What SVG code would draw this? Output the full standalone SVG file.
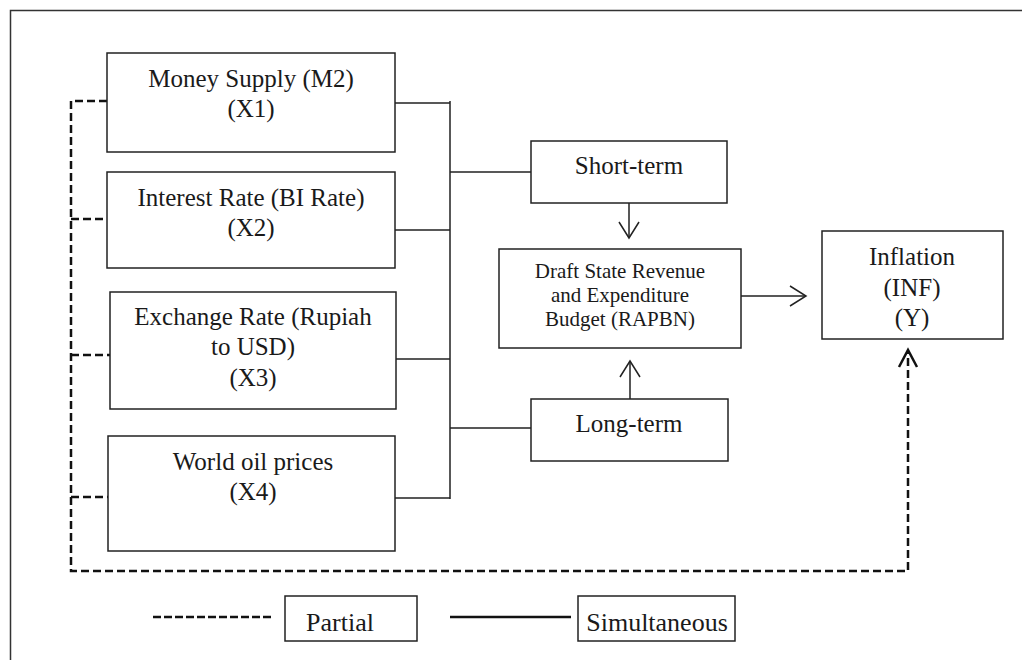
<svg xmlns="http://www.w3.org/2000/svg" width="1022" height="660" viewBox="0 0 1022 660">
<style>
.box{fill:#fff;stroke:#222;stroke-width:1.5}
.t{font-family:"Liberation Serif","Times New Roman",serif;font-size:25px;fill:#1a1a1a;text-anchor:middle}
.ts{font-size:21px}
.tl{font-size:26px}
.solid{fill:none;stroke:#222;stroke-width:1.5}
.dash{fill:none;stroke:#111;stroke-width:2.5;stroke-dasharray:8 4}
.head{fill:none;stroke:#222;stroke-width:1.5}
</style>
<rect width="1022" height="660" fill="#fff"/>
<path d="M10.5,660 V10.5 H1022" fill="none" stroke="#333" stroke-width="1.5"/>
<g id="connectors">
<path class="solid" d="M395,103 H450 M395,230 H450 M396,359 H450 M395,498 H450 M450,101 V499 M450,172 H531 M450,428 H531"/>
<path class="solid" d="M629,203 V238 M630,399 V361 M741,296 H806"/>
<path class="head" d="M619,222 L629,238 L639,222 M620,377 L630,361 L640,377 M790,286 L806,296 L790,306"/>
<path class="dash" d="M107,101 H71 V571 H908 V352 M71,219 H107 M71,355 H110 M71,497 H108"/>
<path d="M899,367 L908,350 L917,367" fill="none" stroke="#111" stroke-width="2.5"/>
</g>
<g id="x1"><rect class="box" x="107" y="53" width="288" height="99"/><text class="t" x="251" y="87">Money Supply (M2)</text><text class="t" x="251" y="117">(X1)</text></g>
<g id="x2"><rect class="box" x="107" y="172" width="288" height="96"/><text class="t" x="251" y="206">Interest Rate (BI Rate)</text><text class="t" x="251" y="236">(X2)</text></g>
<g id="x3"><rect class="box" x="110" y="292" width="286" height="117"/><text class="t" x="253" y="325">Exchange Rate (Rupiah</text><text class="t" x="253" y="355">to USD)</text><text class="t" x="253" y="386">(X3)</text></g>
<g id="x4"><rect class="box" x="108" y="436" width="287" height="115"/><text class="t" x="253" y="470">World oil prices</text><text class="t" x="253" y="500">(X4)</text></g>
<g id="short"><rect class="box" x="531" y="141" width="196" height="62"/><text class="t" x="629" y="174">Short-term</text></g>
<g id="long"><rect class="box" x="531" y="399" width="197" height="62"/><text class="t" x="629" y="432">Long-term</text></g>
<g id="rapbn"><rect class="box" x="499" y="249" width="242" height="99"/><text class="t ts" x="620" y="278">Draft State Revenue</text><text class="t ts" x="620" y="302">and Expenditure</text><text class="t ts" x="620" y="326">Budget (RAPBN)</text></g>
<g id="inflation"><rect class="box" x="822" y="231" width="181" height="108"/><text class="t" x="912" y="265">Inflation</text><text class="t" x="912" y="296">(INF)</text><text class="t" x="912" y="326">(Y)</text></g>
<g id="legend">
<path d="M153,617 H273" fill="none" stroke="#111" stroke-width="2.5" stroke-dasharray="8 3"/>
<rect class="box" x="285" y="596" width="132" height="45"/><text class="t tl" x="340" y="631">Partial</text>
<path d="M450,617 H571" fill="none" stroke="#111" stroke-width="2.5"/>
<rect class="box" x="578" y="596" width="157" height="45"/><text class="t tl" x="657" y="631">Simultaneous</text>
</g>
</svg>
